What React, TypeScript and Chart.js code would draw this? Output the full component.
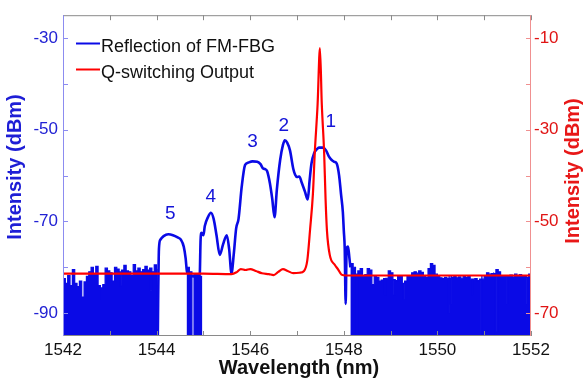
import React, { useEffect, useRef } from 'react';
import { Chart, registerables } from 'chart.js';
Chart.register(...registerables);

// ---------- data ----------
const xTickValues = [1542, 1543, 1544, 1545, 1546, 1547, 1548, 1549, 1550, 1551, 1552];
const xTickLabels = [1542, 1544, 1546, 1548, 1550, 1552];
const leftTickValues = [-90, -80, -70, -60, -50, -40, -30];
const leftTickLabels = [-90, -70, -50, -30];
const rightTickValues = [-70, -60, -50, -40, -30, -20, -10];
const rightTickLabels = [-70, -50, -30, -10];

const seriesBlueName = 'Reflection of FM-FBG';
const seriesRedName = 'Q-switching Output';

// Reflection of FM-FBG: main (smooth) part, [wavelength nm, dBm]
const blueMain: [number, number][] = [
  [1544.02, -100], [1544.05, -76], [1544.08, -74], [1544.15, -73.2], [1544.25, -72.8],
  [1544.35, -73.0], [1544.45, -73.5], [1544.52, -74.0], [1544.58, -75.5], [1544.62, -78.0],
  [1544.65, -81.0], [1544.8, -82.0], [1544.92, -82.0], [1544.94, -74.0], [1544.96, -72.5],
  [1545.0, -73.0], [1545.03, -71.0], [1545.1, -69.0], [1545.16, -68.1], [1545.22, -69.5],
  [1545.28, -73.0], [1545.35, -77.3], [1545.42, -75.0], [1545.5, -73.0], [1545.55, -76.0],
  [1545.6, -81.3], [1545.65, -77.0], [1545.7, -71.5], [1545.75, -69.5], [1545.82, -62.3],
  [1545.89, -57.7], [1545.95, -57.2], [1546.05, -56.9], [1546.15, -57.0], [1546.22, -57.5],
  [1546.27, -58.4], [1546.32, -58.6], [1546.36, -59.0], [1546.42, -61.6], [1546.47, -65.0],
  [1546.52, -69.1], [1546.57, -63.0], [1546.64, -56.6], [1546.7, -53.3], [1546.74, -52.3],
  [1546.79, -52.8], [1546.85, -54.5], [1546.92, -58.5], [1546.96, -59.8], [1547.0, -60.3],
  [1547.05, -60.2], [1547.1, -61.5], [1547.17, -63.5], [1547.23, -65.2], [1547.27, -61.0],
  [1547.31, -57.3], [1547.37, -55.0], [1547.42, -54.3], [1547.47, -53.9], [1547.55, -53.9],
  [1547.62, -54.5], [1547.68, -55.8], [1547.74, -56.6], [1547.8, -57.0], [1547.85, -57.4],
  [1547.9, -60.0], [1547.94, -64.0], [1547.98, -68.0], [1548.0, -72.0], [1548.02, -76.0],
  [1548.04, -88.0], [1548.06, -76.0], [1548.09, -75.5], [1548.12, -78.0], [1548.14, -80.0],
];

// noise floor envelopes (stepped, filled)
const blueNoiseLeft: [number, number][] = [
  [1542.0, -82.5], [1542.05, -83.5], [1542.1, -81.8], [1542.15, -84.0], [1542.2, -80.5],
  [1542.25, -83.5], [1542.3, -84.2], [1542.35, -83.0], [1542.4, -86.5], [1542.45, -83.2],
  [1542.5, -82.0], [1542.55, -81.0], [1542.6, -80.0], [1542.65, -81.5], [1542.7, -79.8],
  [1542.75, -84.0], [1542.8, -84.5], [1542.85, -83.8], [1542.9, -80.2], [1542.95, -80.8],
  [1543.0, -81.2], [1543.05, -83.0], [1543.1, -80.0], [1543.15, -80.4], [1543.2, -81.0],
  [1543.25, -80.6], [1543.3, -79.6], [1543.35, -80.8], [1543.4, -81.0], [1543.45, -81.8],
  [1543.5, -79.4], [1543.55, -80.8], [1543.6, -80.2], [1543.65, -81.0], [1543.7, -80.5],
  [1543.75, -79.8], [1543.8, -80.6], [1543.85, -80.2], [1543.9, -81.0], [1543.95, -79.5],
  [1544.0, -80.5], [1544.01, -100],
];
const blueNoiseLeftSlits: [number, number][] = [
  [1542.82, -87], [1543.22, -84], [1543.87, -85],
];

const blueNoiseMid: [number, number][] = [
  [1544.64, -80.0], [1544.7, -81.0], [1544.755, -100], [1544.8, -81.6], [1544.86, -81.4],
  [1544.92, -82.0], [1544.96, -100],
];

const blueNoiseRight: [number, number][] = [
  [1548.14, -79.2], [1548.2, -80.0], [1548.25, -81.5], [1548.3, -80.8], [1548.35, -80.3],
  [1548.4, -81.8], [1548.45, -81.6], [1548.5, -80.3], [1548.55, -80.6], [1548.6, -83.8],
  [1548.65, -82.0], [1548.7, -82.2], [1548.75, -83.0], [1548.8, -82.8], [1548.85, -82.5],
  [1548.9, -82.4], [1548.95, -80.8], [1549.0, -81.2], [1549.05, -82.7], [1549.1, -82.9],
  [1549.15, -82.0], [1549.2, -81.9], [1549.25, -83.5], [1549.3, -83.0], [1549.35, -82.0],
  [1549.4, -81.8], [1549.45, -81.2], [1549.5, -81.0], [1549.55, -81.3], [1549.6, -80.8],
  [1549.65, -81.1], [1549.7, -82.0], [1549.75, -82.2], [1549.8, -80.3], [1549.85, -79.2],
  [1549.9, -79.6], [1549.95, -81.5], [1550.0, -81.8], [1550.05, -82.3], [1550.1, -82.5],
  [1550.15, -82.2], [1550.2, -82.4], [1550.25, -82.0], [1550.3, -82.2], [1550.35, -81.9],
  [1550.4, -82.3], [1550.45, -82.1], [1550.5, -82.4], [1550.55, -81.9], [1550.6, -82.2],
  [1550.65, -82.0], [1550.7, -82.6], [1550.75, -82.8], [1550.8, -82.5], [1550.85, -82.9],
  [1550.9, -82.6], [1550.95, -81.8], [1551.0, -82.0], [1551.05, -81.2], [1551.1, -81.5],
  [1551.15, -81.4], [1551.2, -81.3], [1551.25, -80.5], [1551.3, -81.0], [1551.35, -81.8],
  [1551.4, -82.0], [1551.45, -81.9], [1551.5, -82.0], [1551.55, -81.7], [1551.6, -82.1],
  [1551.65, -81.5], [1551.7, -81.8], [1551.75, -81.6], [1551.8, -82.0], [1551.85, -81.9],
  [1551.9, -82.2], [1551.95, -81.5], [1552.0, -82.0],
];
const blueNoiseRightSlits: [number, number][] = [
  [1548.27, -100], [1548.87, -86], [1549.07, -86], [1549.27, -87], [1550.23, -90],
  [1550.27, -88], [1550.74, -86], [1550.93, -100], [1551.18, -95], [1551.27, -94],
  [1551.48, -88], [1551.91, -88],
];

// Q-switching output, right axis (dBm)
const redData: [number, number][] = [
  [1542.0, -61.4], [1543.0, -61.4], [1544.0, -61.4], [1545.0, -61.4], [1545.6, -61.5],
  [1545.72, -61.0], [1545.8, -60.4], [1545.9, -60.6], [1546.0, -60.4], [1546.12, -60.8],
  [1546.25, -61.3], [1546.4, -61.5], [1546.5, -61.7], [1546.6, -61.0], [1546.7, -60.4],
  [1546.8, -60.8], [1546.92, -61.3], [1547.05, -61.2], [1547.15, -60.8], [1547.22, -58.5],
  [1547.28, -51.7], [1547.34, -44.0], [1547.38, -35.0], [1547.44, -24.5], [1547.49, -12.2],
  [1547.53, -24.5], [1547.58, -35.0], [1547.61, -45.0], [1547.64, -52.0], [1547.7, -57.3],
  [1547.81, -59.5], [1547.88, -60.5], [1547.95, -61.6], [1548.05, -61.8], [1552.0, -61.8],
];

const peakLabels = ['1', '2', '3', '4', '5'];
const peakLabelX = [1547.72, 1546.72, 1546.05, 1545.16, 1544.29];
const peakLabelY = [-48.3, -49.1, -52.6, -64.7, -68.4];

// ---------- style ----------
const BLUE = '#0a0ae6';
const RED = '#ff0000';
const FONT = '"Liberation Sans", Arial, sans-serif';

function toPts(arr: [number, number][]) {
  return arr.map(([x, y]) => ({ x, y }));
}
function withSlits(env: [number, number][], slits: [number, number][], w: number) {
  const pts = toPts(env);
  for (const [sx, sy] of slits) {
    let prevY = env[0][1];
    for (const [x, y] of env) if (x <= sx) prevY = y;
    pts.push({ x: sx, y: sy }, { x: sx + w, y: prevY });
  }
  return pts.sort((a, b) => a.x - b.x);
}

const framePlugin = {
  id: 'frame',
  afterDatasetsDraw(chart: any) {
    const { ctx, chartArea: a, scales } = chart;
    const xs = scales.x, yl = scales.y, yr = scales.y2;
    ctx.save();
    ctx.lineWidth = 1;
    // top & bottom
    ctx.strokeStyle = '#8a8a8a';
    ctx.beginPath();
    ctx.moveTo(a.left, a.top + 0.5); ctx.lineTo(a.right, a.top + 0.5);
    ctx.moveTo(a.left, a.bottom - 0.5); ctx.lineTo(a.right, a.bottom - 0.5);
    for (const v of xTickValues) {
      const px = Math.round(xs.getPixelForValue(v)) + 0.5;
      ctx.moveTo(px, a.top); ctx.lineTo(px, a.top + 5);
      ctx.moveTo(px, a.bottom); ctx.lineTo(px, a.bottom - 5);
    }
    ctx.stroke();
    // left axis
    ctx.strokeStyle = '#8c8cf0';
    ctx.beginPath();
    ctx.moveTo(a.left + 0.5, a.top); ctx.lineTo(a.left + 0.5, a.bottom);
    for (const v of leftTickValues) {
      const py = Math.round(yl.getPixelForValue(v)) + 0.5;
      ctx.moveTo(a.left, py); ctx.lineTo(a.left + 5, py);
    }
    ctx.stroke();
    // right axis
    ctx.strokeStyle = '#f09090';
    ctx.beginPath();
    ctx.moveTo(a.right - 0.5, a.top); ctx.lineTo(a.right - 0.5, a.bottom);
    for (const v of rightTickValues) {
      const py = Math.round(yr.getPixelForValue(v)) + 0.5;
      ctx.moveTo(a.right, py); ctx.lineTo(a.right - 5, py);
    }
    ctx.stroke();

    // peak labels
    ctx.fillStyle = '#1414d8';
    ctx.font = `19px ${FONT}`;
    ctx.textAlign = 'center';
    ctx.textBaseline = 'middle';
    peakLabels.forEach((t, i) => {
      ctx.fillText(t, xs.getPixelForValue(peakLabelX[i]), yl.getPixelForValue(peakLabelY[i]));
    });

    // legend
    const legendItems = [
      { text: seriesBlueName, color: BLUE, y: 43.5 },
      { text: seriesRedName, color: RED, y: 69.5 },
    ];
    ctx.textAlign = 'left';
    ctx.textBaseline = 'alphabetic';
    ctx.font = `18px ${FONT}`;
    for (const it of legendItems) {
      ctx.strokeStyle = it.color;
      ctx.lineWidth = 2;
      ctx.beginPath();
      ctx.moveTo(76, it.y); ctx.lineTo(100, it.y);
      ctx.stroke();
      ctx.fillStyle = '#111';
      ctx.fillText(it.text, 101, it.y + 8);
    }

    // axis titles
    ctx.font = `bold 20px ${FONT}`;
    ctx.textAlign = 'center';
    ctx.textBaseline = 'middle';
    ctx.fillStyle = '#111';
    ctx.fillText('Wavelength (nm)', (a.left + a.right) / 2 + 2, 368);
    ctx.save();
    ctx.translate(15, 167);
    ctx.rotate(-Math.PI / 2);
    ctx.fillStyle = '#1e1ed6';
    ctx.fillText('Intensity (dBm)', 0, 0);
    ctx.restore();
    ctx.save();
    ctx.translate(573, 171);
    ctx.rotate(-Math.PI / 2);
    ctx.fillStyle = '#e81818';
    ctx.fillText('Intensity (dBm)', 0, 0);
    ctx.restore();
    ctx.restore();
  },
};

export default function App() {
  const ref = useRef<HTMLCanvasElement>(null);
  useEffect(() => {
    document.body.style.margin = '0';
    const canvas = ref.current!;
    const noiseStyle = {
      yAxisID: 'y',
      borderColor: BLUE,
      backgroundColor: BLUE,
      borderWidth: 1.2,
      pointRadius: 0,
      stepped: true,
      fill: 'start',
    };
    const noGrid = { display: false, drawTicks: false, tickLength: 0 };
    const chart = new Chart(canvas, {
      type: 'line',
      data: {
        datasets: [
          {
            label: seriesRedName,
            data: toPts(redData),
            yAxisID: 'y2',
            borderColor: RED,
            borderWidth: 2.2,
            pointRadius: 0,
            cubicInterpolationMode: 'monotone',
            fill: false,
          } as any,
          {
            label: seriesBlueName,
            data: toPts(blueMain),
            yAxisID: 'y',
            borderColor: BLUE,
            borderWidth: 2.6,
            pointRadius: 0,
            cubicInterpolationMode: 'monotone',
            fill: false,
          },
          { ...noiseStyle, label: 'noiseL', data: withSlits(blueNoiseLeft, blueNoiseLeftSlits, 0.022) } as any,
          { ...noiseStyle, label: 'noiseM', data: toPts(blueNoiseMid) } as any,
          { ...noiseStyle, label: 'noiseR', data: withSlits(blueNoiseRight, blueNoiseRightSlits, 0.022) } as any,
        ],
      },
      options: {
        animation: false,
        responsive: false,
        parsing: false as any,
        normalized: true,
        layout: { padding: { top: 9, left: 0, right: 0, bottom: 0 } },
        plugins: { legend: { display: false }, tooltip: { enabled: false } },
        scales: {
          x: {
            type: 'linear',
            min: 1542,
            max: 1552,
            grid: noGrid,
            border: { display: false },
            afterBuildTicks: (s: any) => { s.ticks = xTickLabels.map((v) => ({ value: v })); },
            ticks: { color: '#111', font: { family: FONT, size: 17 }, padding: 4, maxRotation: 0, autoSkip: false, callback: (v: any) => String(v) },
            afterFit: (s: any) => { s.height = 45; },
          },
          y: {
            type: 'linear',
            position: 'left',
            min: -95,
            max: -25,
            grid: noGrid,
            border: { display: false },
            afterBuildTicks: (s: any) => { s.ticks = leftTickLabels.map((v) => ({ value: v })); },
            ticks: { color: '#2222d4', font: { family: FONT, size: 17 }, padding: 5, autoSkip: false, callback: (v: any) => String(v) },
            afterFit: (s: any) => { s.width = 63; },
          },
          y2: {
            type: 'linear',
            position: 'right',
            min: -75,
            max: -5,
            grid: noGrid,
            border: { display: false },
            afterBuildTicks: (s: any) => { s.ticks = rightTickLabels.map((v) => ({ value: v })); },
            ticks: { color: '#e01414', font: { family: FONT, size: 17 }, padding: 3, autoSkip: false, callback: (v: any) => String(v) },
            afterFit: (s: any) => { s.width = 54; },
          },
        },
      },
      plugins: [framePlugin],
    } as any);
    return () => chart.destroy();
  }, []);
  return <canvas ref={ref} width={585} height={381} style={{ display: 'block' }} />;
}
